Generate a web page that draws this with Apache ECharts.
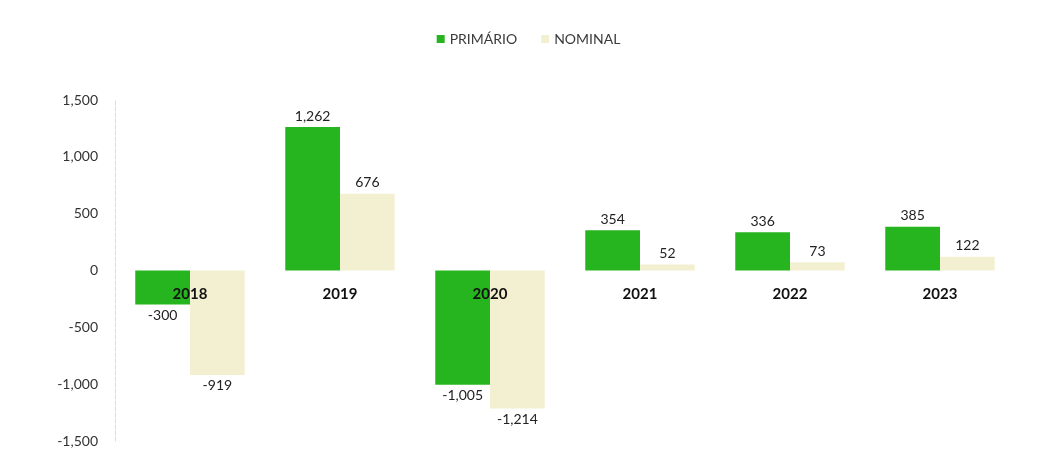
<!DOCTYPE html>
<html>
<head>
<meta charset="utf-8">
<script src="https://cdn.jsdelivr.net/npm/echarts@6/dist/echarts.min.js"></script>
<style>
  html, body { margin: 0; padding: 0; background: #fff; }
  #chart { width: 1057px; height: 463px; }
</style>
</head>
<body>
<div id="chart"></div>
<script>
// dados
var anos = ['2018', '2019', '2020', '2021', '2022', '2023'];
var primario = [-300, 1262, -1005, 354, 336, 385];
var nominal = [-919, 676, -1214, 52, 73, 122];
var yTicks = [-1500, -1000, -500, 0, 500, 1000, 1500];

function fmt(v) {
  return v.toLocaleString('en-US');
}
// rotulo em cima para positivo, embaixo para negativo
function comRotulo(arr) {
  return arr.map(function (v) {
    return { value: v, label: { position: v < 0 ? 'bottom' : 'top' } };
  });
}

var chart = echarts.init(document.getElementById('chart'));
var option = {
  backgroundColor: '#ffffff',
  textStyle: { fontFamily: 'Lato' },
  legend: {
    top: 27,
    left: 'center',
    itemWidth: 8,
    itemHeight: 8,
    itemGap: 24,
    icon: 'rect',
    textStyle: { color: '#3a3a3a', fontSize: 14, fontFamily: 'Lato' },
    data: ['PRIMÁRIO', 'NOMINAL']
  },
  grid: { left: 115, right: 42, top: 100, bottom: 22, outerBoundsMode: 'none' },
  xAxis: {
    type: 'category',
    data: anos,
    z: 10,
    offset: -171, // rotulos dos anos logo abaixo do zero
    axisLine: { show: false, onZero: false },
    axisTick: { show: false },
    axisLabel: {
      margin: 17,
      color: '#111',
      fontSize: 15,
      fontWeight: 'bold',
      fontFamily: 'Lato'
    }
  },
  yAxis: {
    type: 'value',
    min: yTicks[0],
    max: yTicks[yTicks.length - 1],
    interval: 500,
    axisLine: { show: true, lineStyle: { color: '#dcdcdc', type: 'dashed' } },
    axisTick: { show: false },
    splitLine: { show: false },
    axisLabel: {
      margin: 17,
      color: '#333',
      fontSize: 14,
      fontFamily: 'Lato',
      formatter: function (v) { return fmt(v); }
    }
  },
  series: [
    {
      name: 'PRIMÁRIO',
      type: 'bar',
      data: comRotulo(primario),
      barGap: '0%',
      barCategoryGap: '27%',
      itemStyle: { color: '#27b51f' },
      label: {
        show: true,
        color: '#222',
        fontSize: 14,
        fontFamily: 'Lato',
        distance: 4,
        formatter: function (p) { return fmt(p.value); }
      }
    },
    {
      name: 'NOMINAL',
      type: 'bar',
      data: comRotulo(nominal),
      itemStyle: { color: '#f3f0d2' },
      label: {
        show: true,
        color: '#222',
        fontSize: 14,
        fontFamily: 'Lato',
        distance: 4,
        formatter: function (p) { return fmt(p.value); }
      }
    }
  ]
};
chart.setOption(option);
</script>
</body>
</html>
